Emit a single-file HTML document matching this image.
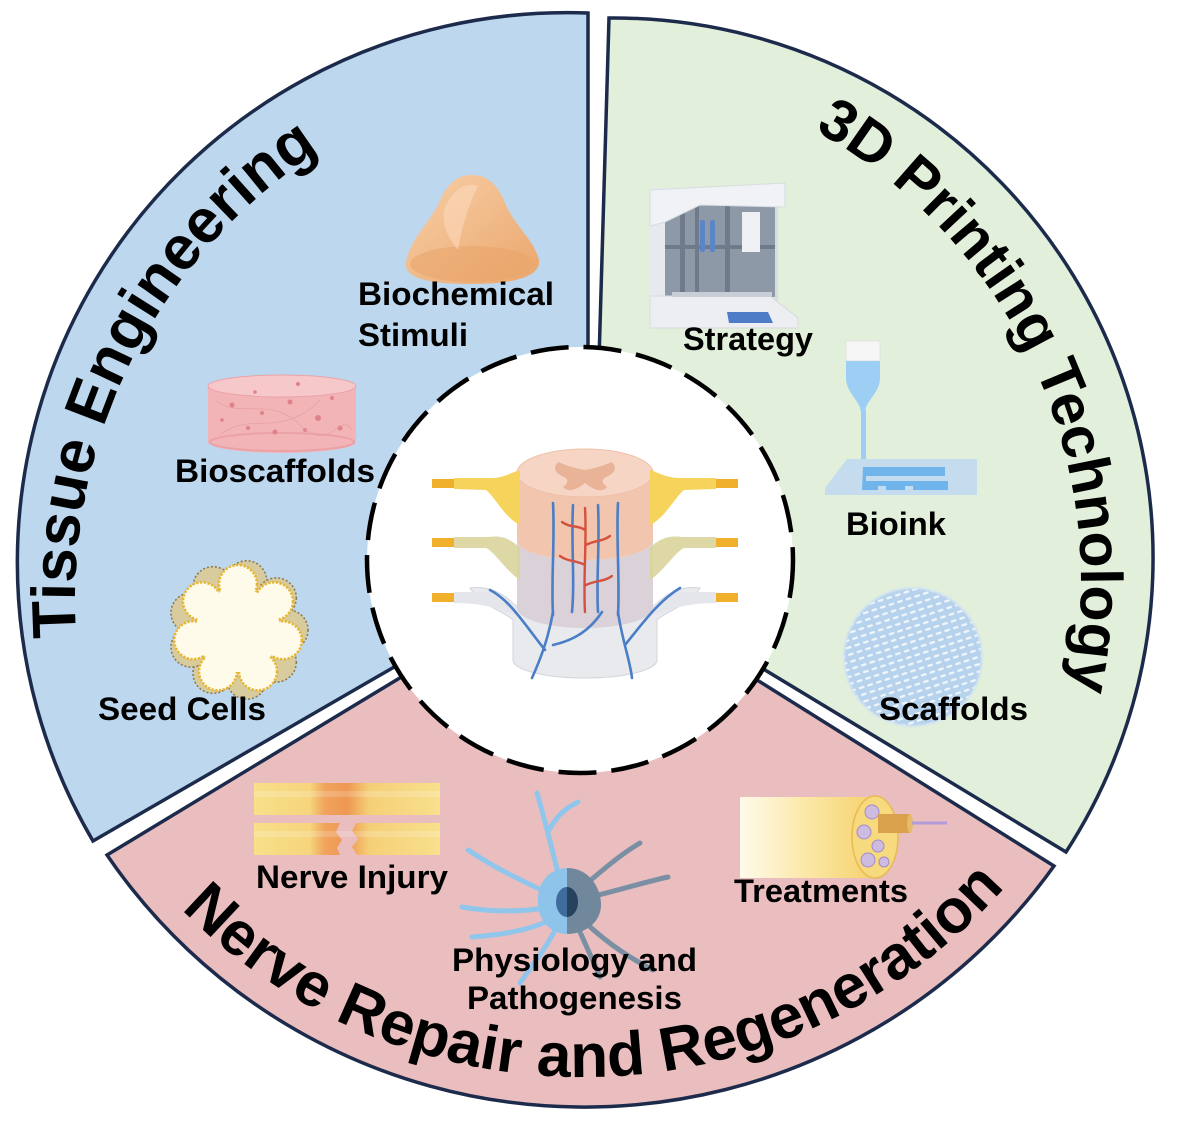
<!DOCTYPE html>
<html><head><meta charset="utf-8">
<style>
html,body{margin:0;padding:0;background:#fff;}
svg{display:block;}
text{font-family:"Liberation Sans",Arial,sans-serif;font-weight:bold;fill:#000;}
</style></head><body>
<svg width="1181" height="1128" viewBox="0 0 1181 1128" xmlns="http://www.w3.org/2000/svg">
<defs>
  <linearGradient id="nerveG" gradientUnits="userSpaceOnUse" x1="254" x2="440" y1="0" y2="0">
    <stop offset="0" stop-color="#f8df8a"/>
    <stop offset="0.3" stop-color="#f6d57c"/>
    <stop offset="0.38" stop-color="#f0a45e"/>
    <stop offset="0.5" stop-color="#ee9752"/>
    <stop offset="0.62" stop-color="#f5cf78"/>
    <stop offset="1" stop-color="#f8e08c"/>
  </linearGradient>
  <linearGradient id="treatG" x1="0" x2="1" y1="0" y2="0">
    <stop offset="0" stop-color="#fffbeb"/>
    <stop offset="0.5" stop-color="#fbe7a6"/>
    <stop offset="1" stop-color="#f6d16c"/>
  </linearGradient>
  <linearGradient id="bellG" x1="0" x2="1" y1="0" y2="1">
    <stop offset="0" stop-color="#f8cfa8"/>
    <stop offset="1" stop-color="#eaa66c"/>
  </linearGradient>
  <pattern id="mesh" width="9" height="7" patternUnits="userSpaceOnUse" patternTransform="rotate(-18)">
    <rect width="9" height="7" fill="#b7d2ec"/>
    <rect x="1" y="2" width="6" height="2.4" rx="1.2" fill="#eef5fb"/>
  </pattern>
  <path id="pTissue" d="M 76.3 637.3 A 535 535 0 0 1 517.1 73.1"/>
  <path id="p3D" d="M 814.4 130.3 A 516 516 0 0 1 1011.9 840"/>
  <path id="pNerve" d="M 181.4 909 A 564 564 0 0 0 1113 705.9"/>
</defs>
<rect width="1181" height="1128" fill="#fff"/>

<!-- Sectors -->
<path d="M 588 555 L 588 13 A 550 550 0 0 0 93 841 Z" fill="#bdd7ee" stroke="#1c2b4b" stroke-width="3.5"/>
<path d="M 593 566 L 609 18 A 540 540 0 0 1 1066 852 Z" fill="#e2efda" stroke="#1c2b4b" stroke-width="3.5"/>
<path d="M 580 569 L 107 855 A 578 578 0 0 0 1054 866 Z" fill="#eabebf" stroke="#1c2b4b" stroke-width="3.5"/>

<!-- Titles -->
<text font-size="62"><textPath href="#pTissue">Tissue Engineering</textPath></text>
<text font-size="59"><textPath href="#p3D">3D Printing Technology</textPath></text>
<text font-size="62"><textPath href="#pNerve">Nerve Repair and Regeneration</textPath></text>

<!-- Biochemical stimuli bell -->
<path d="M 406 262 C 410 240, 428 224, 438 205 C 446 185, 456 175, 472 175 C 488 175, 498 185, 506 205 C 515 226, 534 240, 539 260 C 541 278, 510 284, 472 284 C 432 284, 403 279, 406 262 Z" fill="url(#bellG)"/>
<ellipse cx="472" cy="264" rx="62" ry="18" fill="#e9a46a" opacity="0.55"/>
<path d="M 445 207 C 453 188, 468 182, 478 186 C 470 202, 462 225, 458 250 C 450 240, 440 225, 445 207 Z" fill="#fbd9ba" opacity="0.6"/>

<!-- Bioscaffolds cylinder -->
<path d="M 208 386 L 208 442 A 74 11 0 0 0 356 442 L 356 386 Z" fill="#f2b4b7"/>
<ellipse cx="282" cy="386" rx="74" ry="11" fill="#f6c8ca" stroke="#eaa3a8" stroke-width="1"/>
<ellipse cx="282" cy="442" rx="72" ry="9" fill="none" stroke="#e89aa0" stroke-width="2" opacity="0.7"/>
<g fill="#e0828a">
  <circle cx="232" cy="405" r="2.5"/><circle cx="262" cy="413" r="2"/><circle cx="290" cy="402" r="2.5"/>
  <circle cx="318" cy="418" r="3"/><circle cx="332" cy="398" r="2"/><circle cx="248" cy="428" r="2"/>
  <circle cx="275" cy="432" r="2.5"/><circle cx="305" cy="430" r="2"/><circle cx="340" cy="428" r="2.5"/>
  <circle cx="222" cy="420" r="1.8"/><circle cx="298" cy="384" r="2"/><circle cx="255" cy="392" r="1.8"/>
</g>
<g stroke="#e79ba1" stroke-width="0.8" fill="none" opacity="0.8">
  <path d="M 215 400 C 240 420, 270 395, 300 425 S 340 410, 352 430"/>
  <path d="M 220 435 C 250 410, 280 440, 320 400"/>
</g>

<!-- Seed cells -->
<g transform="translate(238,630)">
  <g fill="#d8cb9d" stroke="#8f7a52" stroke-width="1.6" stroke-dasharray="2 2">
    <circle cx="50" cy="0" r="20"/><circle cx="38.3" cy="32.1" r="20"/><circle cx="8.7" cy="49.2" r="20"/>
    <circle cx="-25" cy="43.3" r="20"/><circle cx="-47" cy="17.1" r="20"/><circle cx="-47" cy="-17.1" r="20"/>
    <circle cx="-25" cy="-43.3" r="20"/><circle cx="8.7" cy="-49.2" r="20"/><circle cx="38.3" cy="-32.1" r="20"/>
  </g>
  <circle r="50" fill="#d8cb9d"/>
  <g fill="#fffbea" stroke="#e8b52c" stroke-width="2.6" stroke-dasharray="2.2 1.6">
    <circle cx="0" cy="-46" r="19"/><circle cx="36" cy="-28.7" r="19"/><circle cx="44.8" cy="10.2" r="19"/>
    <circle cx="20" cy="41.4" r="19"/><circle cx="-20" cy="41.4" r="19"/><circle cx="-44.8" cy="10.2" r="19"/>
    <circle cx="-36" cy="-28.7" r="19"/>
    <circle r="38"/>
  </g>
  <g fill="#fffbea">
    <circle cx="0" cy="-46" r="17"/><circle cx="36" cy="-28.7" r="17"/><circle cx="44.8" cy="10.2" r="17"/>
    <circle cx="20" cy="41.4" r="17"/><circle cx="-20" cy="41.4" r="17"/><circle cx="-44.8" cy="10.2" r="17"/>
    <circle cx="-36" cy="-28.7" r="17"/>
    <circle r="42"/>
  </g>
</g>

<!-- Strategy: 3D printer -->
<g>
  <rect x="650" y="188" width="15" height="135" fill="#e6e9ee"/>
  <rect x="665" y="205" width="112" height="92" fill="#8e99a8"/>
  <g fill="#6f7b8b">
    <rect x="680" y="205" width="5" height="92"/><rect x="695" y="205" width="4" height="92"/>
    <rect x="725" y="205" width="5" height="92"/><rect x="665" y="245" width="112" height="4"/>
  </g>
  <rect x="742" y="212" width="18" height="40" fill="#eef0f3"/>
  <rect x="700" y="220" width="5" height="32" rx="2" fill="#5a86c8"/>
  <rect x="710" y="220" width="5" height="32" rx="2" fill="#5a86c8"/>
  <path d="M 650 190 L 785 183 L 785 207 L 700 205 L 665 222 L 650 226 Z" fill="#f0f2f5" stroke="#d8dce2" stroke-width="1"/>
  <rect x="775" y="207" width="3" height="95" fill="#d8dce2"/>
  <path d="M 650 296 L 770 296 L 798 318 L 798 328 L 650 328 Z" fill="#eceef2" stroke="#d5d9df" stroke-width="1"/>
  <rect x="672" y="292" width="100" height="5" fill="#c8ced6"/>
  <path d="M 727 312 L 768 312 L 773 323 L 729 323 Z" fill="#4f7cc6"/>
</g>

<!-- Bioink -->
<g>
  <rect x="846" y="341" width="34" height="20" fill="#f6f6f6" stroke="#e2e2e2" stroke-width="1"/>
  <path d="M 846 361 L 880 361 L 880 378 C 880 393, 866 400, 865 412 L 861 412 C 860 400, 846 393, 846 378 Z" fill="#9dcff4"/>
  <rect x="861" y="410" width="5" height="56" fill="#9dcff4"/>
  <path d="M 825 488 L 847 459 L 977 459 L 977 495 L 825 495 Z" fill="#c5dcee"/>
  <path d="M 863 467 L 945 467 L 945 476 L 866 476 L 866 481 L 948 481 L 948 490 L 862 490 Z" fill="#6fb5ec"/>
  <rect x="878" y="486" width="8" height="5" fill="#c5dcee"/><rect x="905" y="486" width="8" height="5" fill="#c5dcee"/>
</g>

<!-- Scaffolds mesh -->
<circle cx="913" cy="657" r="69" fill="url(#mesh)"/>
<circle cx="913" cy="657" r="69" fill="none" stroke="#d2e4f2" stroke-width="3" opacity="0.6"/>

<!-- Nerve injury -->
<rect x="254" y="783" width="186" height="32" fill="url(#nerveG)"/>
<rect x="254" y="791" width="186" height="6" fill="#fff" opacity="0.18"/>
<path d="M 254 823 L 340 823 L 336 832 L 342 840 L 337 848 L 340 855 L 254 855 Z" fill="url(#nerveG)"/>
<path d="M 356 823 L 440 823 L 440 855 L 357 855 L 352 847 L 358 839 L 352 831 Z" fill="url(#nerveG)"/>
<rect x="254" y="831" width="186" height="6" fill="#fff" opacity="0.18"/>

<!-- Neuron -->
<g fill="none" stroke-linecap="round">
  <g stroke="#90c6ec" stroke-width="5">
    <path d="M 560 880 C 552 850, 545 820, 537 793"/>
    <path d="M 549 830 C 556 818, 562 810, 578 802"/>
    <path d="M 548 893 C 520 880, 495 868, 468 850"/>
    <path d="M 545 908 C 520 912, 490 912, 462 907"/>
    <path d="M 550 920 C 530 930, 500 935, 472 937"/>
    <path d="M 555 930 C 545 950, 530 968, 520 983"/>
  </g>
  <g stroke="#7a8fa3" stroke-width="5">
    <path d="M 585 885 C 605 868, 620 855, 640 843"/>
    <path d="M 590 897 C 620 890, 645 882, 668 877"/>
    <path d="M 588 925 C 610 945, 630 958, 653 970"/>
    <path d="M 580 932 C 588 950, 595 965, 600 977"/>
  </g>
</g>
<path d="M 567 868 C 546 868, 536 888, 538 905 C 540 924, 553 934, 567 934 Z" fill="#8ec4ea"/>
<path d="M 567 868 C 588 868, 600 886, 601 903 C 602 922, 585 934, 567 934 Z" fill="#71879c"/>
<path d="M 567 887 A 11 15 0 0 0 567 917 Z" fill="#3f6c9c"/>
<path d="M 567 887 A 11 15 0 0 1 567 917 Z" fill="#26425f"/>

<!-- Treatments -->
<rect x="740" y="797" width="135" height="81" fill="url(#treatG)"/>
<ellipse cx="875" cy="837" rx="23" ry="41" fill="#f7d97e" stroke="#e6bb52" stroke-width="1.5"/>
<g fill="#cdbbe0" stroke="#a58ac6" stroke-width="1">
  <circle cx="872" cy="812" r="7"/><circle cx="864" cy="832" r="7"/><circle cx="878" cy="846" r="6"/>
  <circle cx="868" cy="860" r="7"/><circle cx="884" cy="862" r="5"/>
</g>
<rect x="878" y="814" width="32" height="19" fill="#d9a14b"/>
<ellipse cx="910" cy="823.5" rx="3" ry="9.5" fill="#e8bb6a"/>
<line x1="912" y1="823" x2="947" y2="823" stroke="#b39ad8" stroke-width="3"/>

<!-- Center dashed circle -->
<circle cx="580" cy="560" r="213" fill="#fff" stroke="#000" stroke-width="4.5" stroke-dasharray="38 15"/>

<!-- Spinal cord illustration -->
<g>
  <path d="M 470 588 C 490 585, 505 595, 515 605 L 655 605 C 665 595, 680 585, 700 588 C 690 605, 665 612, 657 620 L 657 660 A 72 18 0 0 1 513 660 L 513 620 C 505 612, 480 605, 470 588 Z" fill="#e8eaee" stroke="#d2d5db" stroke-width="1"/>
  <path d="M 454 592 L 480 592 C 495 590, 505 598, 517 605 L 517 615 C 500 610, 485 603, 454 603 Z" fill="#e4e6ec"/>
  <path d="M 716 592 L 690 592 C 675 590, 665 598, 653 605 L 653 615 C 670 610, 685 603, 716 603 Z" fill="#e4e6ec"/>
  <path d="M 517 540 A 68 20 0 0 0 653 540 L 653 608 A 68 20 0 0 1 517 608 Z" fill="#dbd1d8"/>
  <path d="M 517 473 L 517 540 A 68 20 0 0 0 653 540 L 653 473 Z" fill="#f2c5ae"/>
  <ellipse cx="585" cy="473" rx="68" ry="24" fill="#f6d5c4" stroke="#edc1aa" stroke-width="1"/>
  <path d="M 558 462 Q 572 468 585 470 Q 598 468 612 462 Q 620 471 606 477 Q 599 481 607 487 Q 600 495 585 483 Q 570 495 563 487 Q 571 481 564 477 Q 550 471 558 462 Z" fill="#e9b397"/>
  <path d="M 454 478 L 490 478 C 505 478, 512 472, 520 470 L 520 525 C 505 518, 495 497, 486 490 L 454 489 Z" fill="#f6d35b"/>
  <path d="M 716 478 L 680 478 C 665 478, 658 472, 650 470 L 650 525 C 665 518, 675 497, 684 490 L 716 489 Z" fill="#f6d35b"/>
  <path d="M 454 537 L 488 537 C 503 535, 512 540, 520 548 L 520 580 C 505 570, 495 552, 486 548 L 454 548 Z" fill="#d9d49b" opacity="0.9"/>
  <path d="M 716 537 L 682 537 C 667 535, 658 540, 650 548 L 650 580 C 665 570, 675 552, 684 548 L 716 548 Z" fill="#d9d49b" opacity="0.9"/>
  <g fill="#f0b02c">
    <rect x="432" y="479" width="22" height="9"/><rect x="716" y="479" width="22" height="9"/>
    <rect x="432" y="538" width="22" height="9"/><rect x="716" y="538" width="22" height="9"/>
    <rect x="432" y="593" width="22" height="9"/><rect x="716" y="593" width="22" height="9"/>
  </g>
  <g fill="none" stroke="#4a7ec6" stroke-width="2.6" stroke-linecap="round">
    <path d="M 553 503 C 555 540, 551 580, 553 615"/>
    <path d="M 573 505 C 571 545, 575 580, 572 612"/>
    <path d="M 598 505 C 600 545, 596 580, 598 612"/>
    <path d="M 618 503 C 616 540, 620 580, 618 615"/>
    <path d="M 553 612 C 548 640, 540 660, 532 678"/>
    <path d="M 618 612 C 622 640, 630 660, 632 678"/>
    <path d="M 553 645 C 575 640, 590 630, 602 612"/>
    <path d="M 490 590 C 510 600, 525 625, 545 650"/>
    <path d="M 680 588 C 660 600, 645 620, 625 645"/>
  </g>
  <g fill="none" stroke="#d4503f" stroke-width="2.4" stroke-linecap="round">
    <path d="M 585 508 C 587 540, 583 580, 585 612"/>
    <path d="M 585 530 C 578 525, 570 528, 562 522"/>
    <path d="M 586 545 C 595 540, 602 542, 610 536"/>
    <path d="M 585 565 C 576 560, 568 562, 560 556"/>
    <path d="M 586 585 C 596 580, 604 582, 612 576"/>
  </g>
</g>

<!-- Labels -->
<g font-size="32">
  <text x="358" y="305" textLength="196" lengthAdjust="spacingAndGlyphs">Biochemical</text>
  <text x="358" y="346" textLength="110" lengthAdjust="spacingAndGlyphs">Stimuli</text>
  <text x="175" y="482" textLength="200" lengthAdjust="spacingAndGlyphs">Bioscaffolds</text>
  <text x="98" y="720" textLength="168" lengthAdjust="spacingAndGlyphs">Seed Cells</text>
  <text x="683" y="350" textLength="130" lengthAdjust="spacingAndGlyphs">Strategy</text>
  <text x="846" y="535" textLength="100" lengthAdjust="spacingAndGlyphs">Bioink</text>
  <text x="879" y="720" textLength="149" lengthAdjust="spacingAndGlyphs">Scaffolds</text>
  <text x="256" y="888" textLength="192" lengthAdjust="spacingAndGlyphs">Nerve Injury</text>
  <text x="734" y="902" textLength="174" lengthAdjust="spacingAndGlyphs">Treatments</text>
  <text x="452" y="971" textLength="245" lengthAdjust="spacingAndGlyphs">Physiology and</text>
  <text x="467" y="1009" textLength="215" lengthAdjust="spacingAndGlyphs">Pathogenesis</text>
</g>
</svg>
</body></html>
